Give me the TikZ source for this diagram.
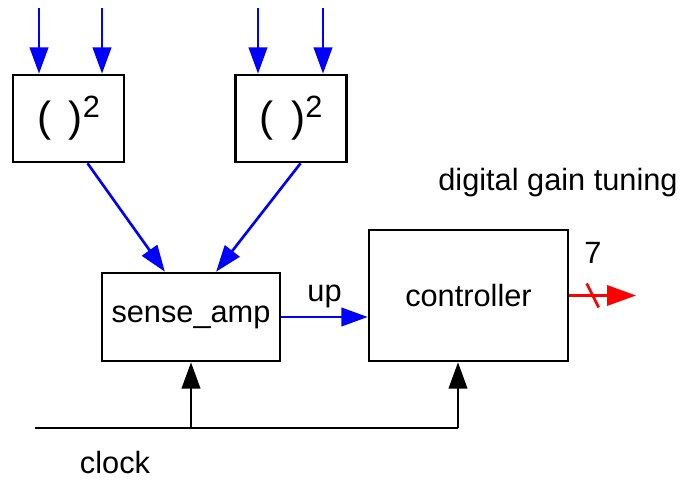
\documentclass[tikz,border=0pt]{standalone}
\usepackage{fontspec}
\setmainfont{Liberation Sans}
\usepackage{tikz}
\usetikzlibrary{arrows.meta,positioning,calc}

\newcommand{\squared}{{\fontsize{24}{26}\selectfont(\hspace{10pt})}\raisebox{0.45em}{2}}

\begin{document}
\begin{tikzpicture}[
        x=0.02cm, y=-0.02cm,
        every node/.style={font=\fontsize{17.5}{20}\selectfont, align=center},
        block/.style={draw, line width=1.5pt, inner sep=0pt},
        square/.style={block, minimum width=2.22cm, minimum height=1.74cm},
        sig/.style={draw=blue, line width=1.5pt, -{Triangle[length=15pt, width=10.5pt]}},
        clk/.style={draw, line width=1.5pt, -{Triangle[length=15pt, width=10.5pt]}},
        bus/.style={draw=red, line width=1.5pt}
      ]
      \useasboundingbox (0,0) rectangle (683,482);
      % blocks
      \node[square] (sq1) at (68.5,118.5) {\squared};
      \node[square] (sq2) at (291,118.5) {\squared};
      \node[block, minimum width=3.56cm, minimum height=1.76cm] (amp) at (191,317) {sense\_amp};
      \node[block, minimum width=3.98cm, minimum height=2.62cm] (ctrl) at (468.5,295.5) {controller};

      % inputs
      \coordinate (a1) at (39,8);
      \coordinate (a2) at (102,8);
      \coordinate (b1) at (258,8);
      \coordinate (b2) at (323,8);
      \draw[sig] (a1) -- (a1 |- sq1.north);
      \draw[sig] (a2) -- (a2 |- sq1.north);
      \draw[sig] (b1) -- (b1 |- sq2.north);
      \draw[sig] (b2) -- (b2 |- sq2.north);

      \draw[sig] (sq1.-67) -- (amp.120.6);
      \draw[sig] (sq2.-78.3) -- (amp.61.4);
      \draw[sig] (amp.east) -- (amp.east -| ctrl.west) node[midway, above=1pt] (up) {up};

      % clock
      \coordinate (c0) at (35,428);
      \coordinate (c1) at (458,428);
      \draw[line width=1.5pt] (c0) -- (c1);
      \draw[clk] (amp.south |- c0) -- (amp.south);
      \draw[clk] (c1) -- (c1 |- ctrl.south);
      \node (clock) at (115,463) {clock};

      % output
      \coordinate (out) at (636,295.5);
      \draw[bus, -{Triangle[length=16.5pt, width=11.5pt]}] (ctrl.east) -- (out);
      \draw[bus] ($(ctrl.east)!0.35!(out)$) +(-6,-12) -- +(6,12);
      \node (bits) at (593,253) {7};
      \node (gain) at (558,183) {digital gain tuning};
\end{tikzpicture}
\end{document}
